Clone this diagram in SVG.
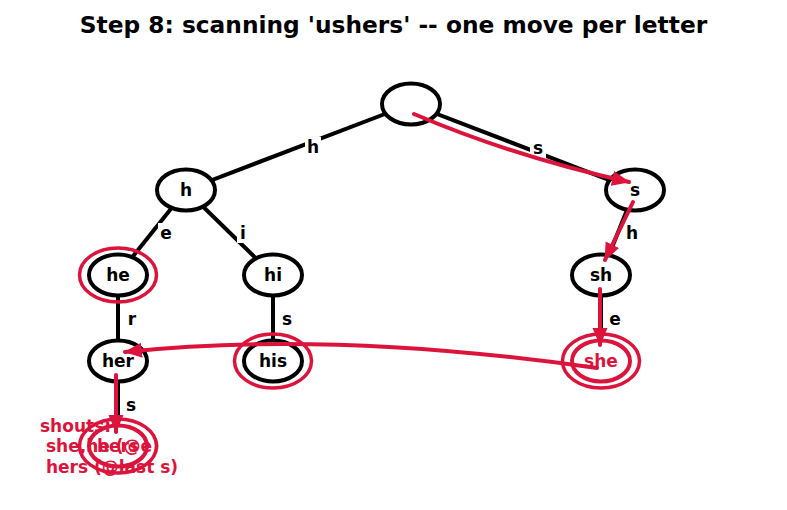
<svg xmlns="http://www.w3.org/2000/svg" width="787" height="510" viewBox="0 0 787 510">
<style>
text{font-family:"DejaVu Sans","Liberation Sans",sans-serif;font-weight:bold}
.title{font-size:23.3px;fill:#000}
.lbl{font-size:17px;text-anchor:middle;fill:#000}
.elbl{font-size:17px;text-anchor:middle;fill:#000}
.node ellipse.b{fill:#fff;stroke:#000;stroke-width:4}
.node ellipse.rn{fill:#fff;stroke:#DC143C;stroke-width:4}
.ring{fill:none;stroke:#DC143C;stroke-width:3.5}
.edge{stroke:#000;stroke-width:4;fill:none}
.bg{fill:#fff}
.arr{stroke:#DC143C;stroke-width:4;fill:none;stroke-linecap:round;marker-end:url(#ah)}
.red{fill:#DC143C}
.note{font-size:17px;fill:#DC143C}
</style>
<defs>
<marker id="ah" markerUnits="userSpaceOnUse" markerWidth="20" markerHeight="16" refX="17" refY="7.5" orient="auto">
<path d="M0,0 L18,7.5 L0,15 Z" fill="#DC143C"/>
</marker>
</defs>
<rect width="787" height="510" fill="#fff"/>
<text class="title" x="393.5" y="33" text-anchor="middle">Step 8: scanning 'ushers' -- one move per letter</text>
<g id="edges">
<line class="edge" x1="411" y1="104" x2="186" y2="190"/>
<line class="edge" x1="411" y1="104" x2="635" y2="190"/>
<line class="edge" x1="186" y1="190" x2="118" y2="275"/>
<line class="edge" x1="186" y1="190" x2="273" y2="275"/>
<line class="edge" x1="635" y1="190" x2="601" y2="275"/>
<line class="edge" x1="118" y1="275" x2="118" y2="361"/>
<line class="edge" x1="273" y1="275" x2="273" y2="361"/>
<line class="edge" x1="601" y1="275" x2="601" y2="361"/>
<line class="edge" x1="118" y1="361" x2="118" y2="446"/>
<rect class="bg" x="305" y="137" width="16" height="20"/>
<text class="elbl" x="313" y="153">h</text>
<rect class="bg" x="530" y="138" width="16" height="20"/>
<text class="elbl" x="538" y="154">s</text>
<rect class="bg" x="158" y="223" width="16" height="20"/>
<text class="elbl" x="166" y="239">e</text>
<rect class="bg" x="237" y="223" width="12" height="20"/>
<text class="elbl" x="243" y="239">i</text>
<rect class="bg" x="624" y="223" width="16" height="20"/>
<text class="elbl" x="632" y="239">h</text>
<rect class="bg" x="125" y="309" width="14" height="20"/>
<text class="elbl" x="132" y="325">r</text>
<rect class="bg" x="279" y="309" width="16" height="20"/>
<text class="elbl" x="287" y="325">s</text>
<rect class="bg" x="607" y="309" width="16" height="20"/>
<text class="elbl" x="615" y="325">e</text>
<rect class="bg" x="123" y="395" width="16" height="20"/>
<text class="elbl" x="131" y="411">s</text>
</g>
<g id="n-root" class="node"><ellipse class="b" cx="411" cy="104" rx="29" ry="20.5"/></g>
<g id="n-h" class="node"><ellipse class="b" cx="186" cy="190" rx="29" ry="20.5"/><text class="lbl" x="186" y="196">h</text></g>
<g id="n-s" class="node"><ellipse class="b" cx="635" cy="190" rx="29" ry="20.5"/><text class="lbl" x="635" y="196">s</text></g>
<g id="n-he" class="node"><ellipse class="b" cx="118" cy="275" rx="29" ry="20.5"/><ellipse class="ring" cx="118" cy="275" rx="38.5" ry="27"/><text class="lbl" x="118" y="281">he</text></g>
<g id="n-hi" class="node"><ellipse class="b" cx="273" cy="275" rx="29" ry="20.5"/><text class="lbl" x="273" y="281">hi</text></g>
<g id="n-sh" class="node"><ellipse class="b" cx="601" cy="275" rx="29" ry="20.5"/><text class="lbl" x="601" y="281">sh</text></g>
<g id="n-her" class="node"><ellipse class="b" cx="118" cy="361" rx="29" ry="20.5"/><text class="lbl" x="118" y="367">her</text></g>
<g id="n-his" class="node"><ellipse class="b" cx="273" cy="361" rx="29" ry="20.5"/><ellipse class="ring" cx="273" cy="361" rx="38.5" ry="27"/><text class="lbl" x="273" y="367">his</text></g>
<g id="n-she" class="node"><ellipse class="rn" cx="601" cy="361" rx="29" ry="20.5"/><ellipse class="ring" cx="601" cy="361" rx="38.5" ry="27"/><text class="lbl red" x="601" y="367">she</text></g>
<g id="n-hers" class="node"><ellipse class="rn" cx="118" cy="446" rx="29" ry="20.5"/><ellipse class="ring" cx="118" cy="446" rx="38.5" ry="27"/><text class="lbl red" x="118" y="452">hers</text></g>
<g id="moves">
<path class="arr" d="M414,114 Q515,157 629,182"/>
<path class="arr" d="M633,202 L605,260"/>
<path class="arr" d="M600,289 L600,345"/>
<path class="arr" d="M597,368 Q330,330 125,352"/>
<path class="arr" d="M116,375 L116,432"/>
</g>
<text class="note" x="40" y="432">shouts:</text>
<text class="note" x="40" y="452" xml:space="preserve"> she,he (@e)</text>
<text class="note" x="40" y="473" xml:space="preserve"> hers (@last s)</text>
</svg>
